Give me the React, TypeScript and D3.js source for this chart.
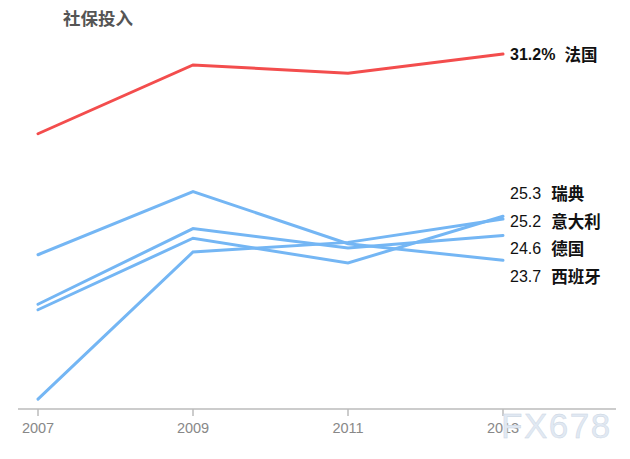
import * as d3 from 'd3';
import React from 'react';

// chart data (social spending, % of GDP)
const years = [2007, 2009, 2011, 2013];
const tickLabels = ['2007', '2009', '2011', '2013'];
const countries = ['法国', '瑞典', '意大利', '德国', '西班牙'];
const france = [28.3, 30.8, 30.5, 31.2];
const sweden = [21.9, 24.5, 23.6, 25.3];
const italy = [18.65, 24.0, 24.35, 25.2];
const germany = [22.1, 24.85, 24.15, 24.6];
const spain = [23.9, 26.2, 24.3, 23.7];
const title = '社保投入';

const W = 630;
const H = 459;
const red = '#f34d4d';
const blue = '#74b6f4';
const cjk = '"Noto Sans CJK SC", sans-serif';
const latin = '"Liberation Sans", Arial, sans-serif';

// simple vertical dodge so end labels don't overlap
const dodge = (ys: number[], gap: number) => {
  const order = ys.map((y, i) => ({ y, i })).sort((a, b) => a.y - b.y);
  const out = order.map((d) => d.y);
  for (let k = 1; k < out.length; k++) {
    if (out[k] - out[k - 1] < gap) out[k] = out[k - 1] + gap;
  }
  const shift = d3.mean(order, (d) => d.y)! - d3.mean(out)!;
  const res = new Array(ys.length);
  order.forEach((d, k) => { res[d.i] = out[k] + shift; });
  return res as number[];
};

const App = () => {
  const x = d3.scaleLinear().domain([2007, 2013]).range([38, 503]);
  const y = d3.scaleLinear().domain([18, 32]).range([417, 32]);

  const line = d3.line<number>()
    .x((d, i) => x(years[i]))
    .y((d) => y(d));

  const series = [france, sweden, italy, germany, spain];
  const last = series.map((s) => s[s.length - 1]);
  const blueY = dodge(last.slice(1).map((v) => y(v)), 27.5);
  const labelY = [y(last[0]), ...blueY.map((v) => v + 1.5)];

  return (
    <svg width={W} height={H} style={{ position: 'absolute', left: 0, top: 0, background: '#fff' }}>
      <text x={63} y={25} fontFamily={cjk} fontWeight="bold" fontSize={17.5} fill="#555">{title}</text>

      {/* x axis */}
      <line x1={18} x2={616} y1={409} y2={409} stroke="#bbb" strokeWidth={1.5} />
      {years.map((yr, i) => (
        <g key={yr} transform={`translate(${x(yr)},409)`}>
          <line y1={0} y2={7} stroke="#bbb" strokeWidth={1.5} />
          <text y={24} textAnchor="middle" fontFamily={latin} fontSize={14.5} fill="#888">{tickLabels[i]}</text>
        </g>
      ))}

      {/* lines */}
      {series.slice(1).map((s, i) => (
        <path key={i} d={line(s)!} fill="none" stroke={blue} strokeWidth={3} strokeLinecap="round" />
      ))}
      <path d={line(france)!} fill="none" stroke={red} strokeWidth={3} strokeLinecap="round" />

      {/* end labels */}
      {series.map((s, i) => (
        <text key={i} x={510} y={labelY[i]} dominantBaseline="central" fill="#111">
          <tspan fontFamily={latin} fontSize={16} fontWeight={i === 0 ? 'bold' : 'normal'}>
            {i === 0 ? `${last[i].toFixed(1)}%` : last[i].toFixed(1)}
          </tspan>
          <tspan dx={i === 0 ? 9 : 10} fontFamily={cjk} fontSize={16.5} fontWeight="bold">{countries[i]}</tspan>
        </text>
      ))}

      {/* watermark */}
      <text x={501} y={438} fontFamily={latin} fontSize={35} fill="#e1e9f3" stroke="#c9d3df" strokeWidth={0.4} letterSpacing={1.5}>FX678</text>
    </svg>
  );
};

export default App;
